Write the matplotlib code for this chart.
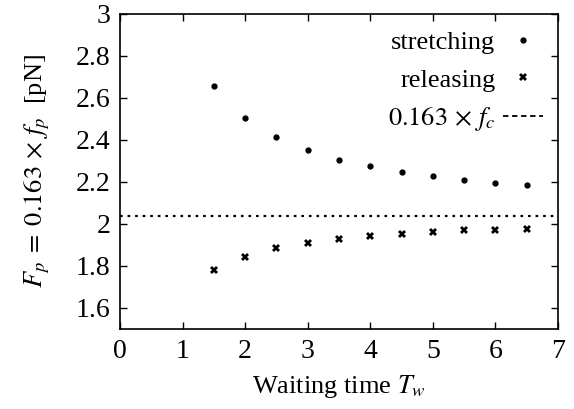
import matplotlib
matplotlib.use("Agg")
import matplotlib.pyplot as plt
from matplotlib.lines import Line2D
from matplotlib.ticker import FuncFormatter

plt.rcParams['font.family'] = ['Liberation Serif', 'DejaVu Serif']
plt.rcParams['mathtext.fontset'] = 'stix'

waiting_time = [1.5, 2.0, 2.5, 3.0, 3.5, 4.0, 4.5, 5.0, 5.5, 6.0, 6.5]
stretching = [2.655, 2.503, 2.412, 2.350, 2.305, 2.275, 2.248, 2.228, 2.210, 2.197, 2.184]
releasing = [1.781, 1.845, 1.884, 1.908, 1.927, 1.943, 1.952, 1.960, 1.969, 1.973, 1.977]
fc_line = 2.0375

W, H = 574, 409
fig = plt.figure(figsize=(W / 100, H / 100), dpi=100)
ax = fig.add_axes([0.209, 0.1956, 0.763, 0.7704])

ax.plot(waiting_time, stretching, linestyle='none', marker='o', markersize=3.5,
        color='black')
ax.plot(waiting_time, releasing, linestyle='none', marker='X', markersize=5.5,
        color='black', markeredgewidth=0)
ax.axhline(fc_line, color='black', linestyle=(0, (1.2, 2.2)), linewidth=1.6)

ax.set_xlim(0, 7)
ax.set_ylim(1.5, 3.0)
ax.set_xticks(range(0, 8))
ax.set_yticks([1.6, 1.8, 2.0, 2.2, 2.4, 2.6, 2.8, 3.0])
ax.yaxis.set_major_formatter(FuncFormatter(lambda v, p: ('%g' % round(v, 2))))
ax.tick_params(direction='in', top=True, right=True, labelsize=20, length=5,
               width=1, pad=7)
for s in ax.spines.values():
    s.set_linewidth(1.2)

ax.set_xlabel(r'Waiting time $T_w$', fontsize=19, labelpad=7)
ax.set_ylabel(r'$F_p\;=\;0.163\,\times\,f_p$  [pN]', fontsize=19, labelpad=17)

handles = [
    Line2D([], [], linestyle='none', marker='o', markersize=3.5, color='black'),
    Line2D([], [], linestyle='none', marker='X', markersize=5.5, color='black',
           markeredgewidth=0),
    Line2D([], [], linestyle=(0, (3, 2)), linewidth=1.3, color='black'),
]
labels = ['stretching', 'releasing', r'$0.163\,\times\,f_c$']
leg = ax.legend(handles, labels, loc='upper right', frameon=False, markerfirst=False,
                fontsize=19, handlelength=1.5, handletextpad=0.3, labelspacing=0.52,
                borderaxespad=0, borderpad=0,
                bbox_to_anchor=(543 / W, 1 - 31 / H), bbox_transform=fig.transFigure)
for t in leg.get_texts():
    t.set_ha('right')

fig.savefig('out.png', dpi=100)
